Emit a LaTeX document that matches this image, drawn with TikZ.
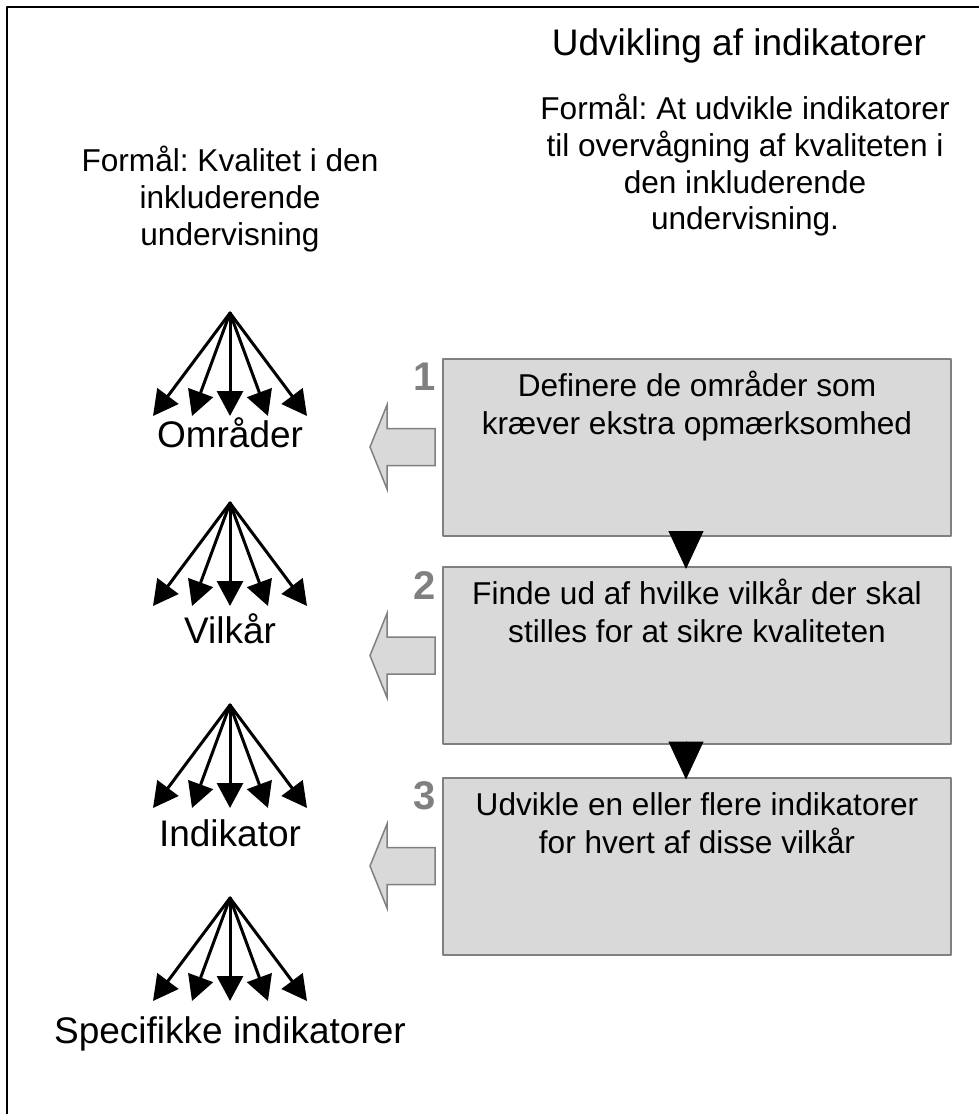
\documentclass[tikz,border=0pt]{standalone}
\usepackage{fontspec}
\setmainfont{Liberation Sans}
\usepackage{tikz}
\usetikzlibrary{arrows.meta, calc, positioning}
\definecolor{boxgray}{RGB}{217,217,217}
\definecolor{linegray}{RGB}{128,128,128}
\frenchspacing

\begin{document}
\begin{tikzpicture}[x=0.5pt, y=-0.5pt, line cap=round, line join=round, >=Triangle,
    stepbox/.style={draw=linegray, fill=boxgray, line width=1pt, minimum width=254pt, minimum height=88.5pt, inner sep=0pt},
    steptext/.style={anchor=north, align=center, inner sep=0pt, font=\fontsize{15.8}{19}\selectfont},
    stepnum/.style={anchor=north east, inner sep=0pt, text=linegray, font=\fontsize{20}{24}\selectfont\bfseries},
    backarrow/.style={draw=linegray, fill=boxgray, line width=0.75pt, line join=miter},
    fanarrow/.style={-{Triangle[length=12.5pt,width=13pt]}, line width=1.5pt},
    nextarrow/.style={-{Triangle[length=19pt,width=17.5pt]}, line width=0.5pt, shorten <=-2pt, shorten >=-1.5pt},
    fanlabel/.style={anchor=base, inner sep=0pt, font=\fontsize{18.5}{22}\selectfont},
    purpose/.style={anchor=north, align=center, inner sep=0pt, font=\fontsize{15.8}{18.3}\selectfont}]
    	\useasboundingbox (0,0) rectangle (979,1114);
    	\draw [line width=1pt] (7,1114)--(7,7)--(979,7);
    	
    	% headings
    	\node [fanlabel] (title) at (739,55) {Udvikling af indikatorer};
    	\node [purpose] (aimright) at (745,94) {Formål: At udvikle indikatorer\\til overvågning af kvaliteten i\\den inkluderende\\undervisning.};
    	\node [purpose] (aimleft) at (230,146) {Formål: Kvalitet i den\\inkluderende\\undervisning};
    	
    	% steps
    	\node [stepbox] (b1) at (697,447) {};
    	\node [stepbox] (b2) at (697,655.5) {};
    	\node [stepbox] (b3) at (697,866) {};
    	
    	\node [steptext] (t1) at ($(b1.north)+(0,13)$) {Definere de områder som\\kræver ekstra opmærksomhed};
    	\node [steptext] (t2) at ($(b2.north)+(0,13)$) {Finde ud af hvilke vilkår der skal\\stilles for at sikre kvaliteten};
    	\node [steptext] (t3) at ($(b3.north)+(0,16)$) {Udvikle en eller flere indikatorer\\for hvert af disse vilkår};
    	
    	\foreach \b/\n in {b1/1, b2/2, b3/3} {
    		\node [stepnum] (n\n) at ($(\b.north west)+(-6,5)$) {\n};
    		\draw [backarrow] ($(\b.west)+(-7,-18.5)$) -- ++(-48,0) -- ++(0,-23.5) -- ++(-17,42) -- ++(17,42) -- ++(0,-23.5) -- ++(48,0) -- cycle;
    	}
    	
    	\draw [nextarrow] ($(b1.south)+(-11,0)$)--($(b2.north)+(-11,0)$);
    	\draw [nextarrow] ($(b2.south)+(-11,0)$)--($(b3.north)+(-11,0)$);
    	
    	% fans
    	\foreach \f/\ya in {f1/313, f2/503, f3/705, f4/898} {
    		\coordinate (\f) at (230,\ya);
    		\foreach \dx [count=\i] in {-77,-38,0,38,77} {
    			\coordinate (\f-\i) at ($(\f)+(\dx,103)$);
    			\draw [fanarrow] (\f)--(\f-\i);
    		}
    	}
    	
    	\node [fanlabel] (l1) at (230,447) {Områder};
    	\node [fanlabel] (l2) at (230,643) {Vilkår};
    	\node [fanlabel] (l3) at (230,846) {Indikator};
    	\node [fanlabel] (l4) at (230,1043) {Specifikke indikatorer};
    \end{tikzpicture}
\end{document}
